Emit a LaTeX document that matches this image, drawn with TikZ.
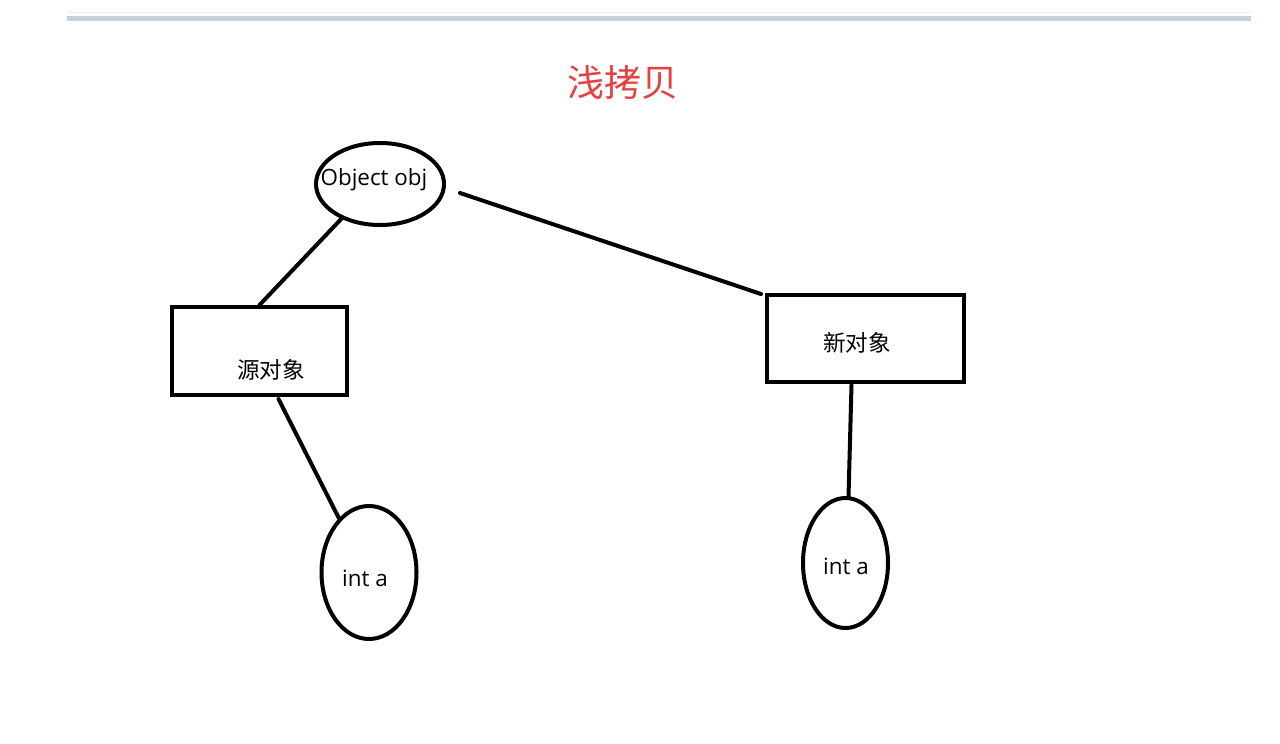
\documentclass[tikz,border=0pt]{standalone}
\usepackage{fontspec}
\setmainfont{Open Sans}
\newfontfamily\cjk{Noto Sans CJK SC}
\usetikzlibrary{shapes.geometric,calc}
\definecolor{barc}{HTML}{C8D0DA}
\definecolor{faint}{HTML}{EEEEEE}
\definecolor{titlered}{HTML}{E8403F}
\begin{document}
\begin{tikzpicture}[x=0.5pt,y=-0.5pt,
  edge/.style={line width=2pt,line cap=round},
  ell/.style={ellipse,draw,line width=2pt,inner sep=0pt},
  box/.style={rectangle,draw,line width=2pt,inner sep=0pt},
  lbl/.style={inner sep=0pt,font=\fontsize{11.2pt}{13pt}\selectfont},
  clbl/.style={inner sep=0pt,font=\cjk\fontsize{11.3pt}{13pt}\selectfont}]
\useasboundingbox[fill=white] (0,0) rectangle (1280,744);
% top bar
\draw[faint,line width=0.5pt] (67,12) -- (1251,12);
\fill[barc] (67,16) rectangle (1251,21);
% title
\node[inner sep=0pt,text=titlered,font=\cjk\fontsize{18.5pt}{22pt}\selectfont] (title) at (623,82) {浅拷贝};
% shapes
\node[ell,minimum width=64pt,minimum height=41pt] (obj) at (380,184) {};
\node[box,minimum width=87.5pt,minimum height=44pt] (src) at (259.5,351) {};
\node[box,minimum width=98.5pt,minimum height=43.5pt] (new) at (865.5,338.5) {};
\node[ell,minimum width=47.5pt,minimum height=66.5pt] (inta1) at (369,572.5) {};
\node[ell,minimum width=42.5pt,minimum height=65pt] (inta2) at (845.5,563) {};
% texts
\node[lbl] (tobj) at (374,180) {Object obj};
\node[clbl] (tsrc) at (271,370) {源对象};
\node[clbl] (tnew) at (857,343) {新对象};
\node[lbl] (ta1) at (365,578) {int a};
\node[lbl] (ta2) at (846,566) {int a};
% connectors
\coordinate (objr) at (460,193);
\draw[edge] (obj.222) -- (src.north);
\draw[edge] (objr) -- ($(new.north west)+(-4,1)$);
\draw[edge] ($(src.south)+(19,2)$) -- (inta1.119);
\draw[edge] ($(new.south)+(-14,1)$) -- ($(inta2.north)+(3,1)$);
\end{tikzpicture}
\end{document}
